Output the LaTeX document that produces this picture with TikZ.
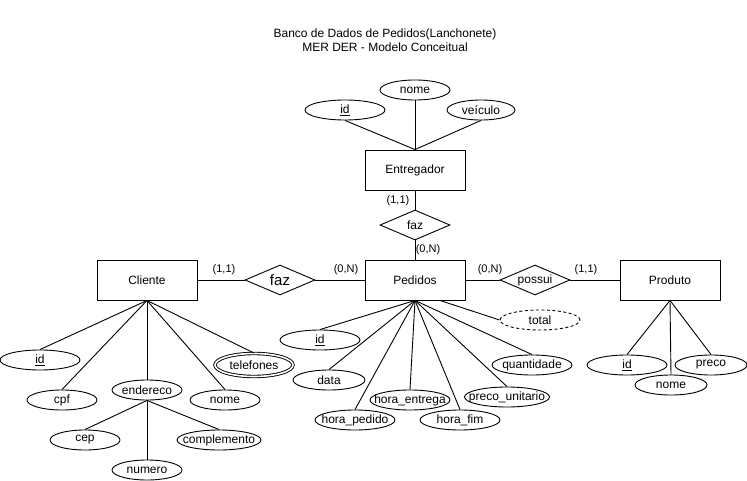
\documentclass[tikz,border=0pt]{standalone}
\usepackage{fontspec}
\setmainfont{Liberation Sans}
\usetikzlibrary{shapes.geometric}
% centred label of zero width, so the shape keeps its own size
\newcommand{\ctext}[1]{\makebox[0pt]{#1}}
\tikzset{
  base/.style={line width=0.9pt, inner sep=0pt, font=\fontsize{12}{14}\selectfont},
  entity/.style={base, draw, rectangle, minimum width=100pt, minimum height=40pt},
  rel/.style={base, draw, diamond, aspect=2.333, minimum width=70pt, minimum height=30pt},
  attr/.style={base, draw, ellipse, minimum height=20pt},
  derived/.style={attr, dash pattern=on 3pt off 2.5pt},
  multi/.style={attr, double, double distance=1.6pt, minimum height=23pt},
  card/.style={inner sep=0pt, font=\fontsize{11}{13}\selectfont},
  link/.style={line width=0.9pt},
}
\begin{document}
\begin{tikzpicture}[x=1pt,y=-1pt]
  \useasboundingbox[fill=white] (0,0) rectangle (747,481);

  % title
  \node[inner sep=0pt, font=\fontsize{12}{14}\selectfont, align=center] (title) at (385,40)
    {Banco de Dados de Pedidos(Lanchonete)\\MER DER - Modelo Conceitual};

  % entities
  \node[entity] (entregador) at (415,170) {Entregador};
  \node[entity] (pedidos) at (415,280) {Pedidos};
  \node[entity] (cliente) at (147,280) {Cliente};
  \node[entity] (produto) at (670,280) {Produto};

  % relationships
  \node[rel] (fazE) at (415,225) {\ctext{faz}};
  \node[rel] (fazC) at (280,280) {\ctext{\fontsize{15}{17}\selectfont faz}};
  \node[rel] (possui) at (535,280) {\ctext{possui}};

  % cardinalities
  \node[card] (c1) at (398,201) {(1,1)};
  \node[card] (c2) at (428,250) {(0,N)};
  \node[card] (c3) at (224,270) {(1,1)};
  \node[card] (c4) at (346,270) {(0,N)};
  \node[card] (c5) at (490,270) {(0,N)};
  \node[card] (c6) at (586,270) {(1,1)};

  % Entregador attributes
  \node[attr, minimum width=80pt] (eid) at (345,110) {\ctext{\underline{id}}};
  \node[attr, minimum width=70pt] (enome) at (415,90) {\ctext{nome}};
  \node[attr, minimum width=68pt] (eveic) at (481,110) {\ctext{veículo}};

  % Cliente attributes
  \node[attr, minimum width=80pt] (cid) at (40,360) {\ctext{\underline{id}}};
  \node[attr, minimum width=70pt] (ccpf) at (62,400) {\ctext{cpf}};
  \node[attr, minimum width=70pt] (cend) at (147,390) {\ctext{endereco}};
  \node[attr, minimum width=70pt] (cnome) at (225,400) {\ctext{nome}};
  \node[multi, minimum width=78pt] (ctel) at (254,365) {\ctext{telefones}};
  \node[attr, minimum width=70pt] (ccep) at (85,440) {\ctext{cep}};
  \node[attr, minimum width=84pt] (ccomp) at (219,440) {\ctext{complemento}};
  \node[attr, minimum width=70pt] (cnum) at (147,470) {\ctext{numero}};

  % Pedidos attributes
  \node[attr, minimum width=80pt] (pid) at (320,340) {\ctext{\underline{id}}};
  \node[attr, minimum width=72pt] (pdata) at (329,380) {\ctext{data}};
  \node[attr, minimum width=80pt] (phped) at (355,420) {\ctext{hora\_pedido}};
  \node[attr, minimum width=80pt] (phent) at (410,400) {\ctext{hora\_entrega}};
  \node[attr, minimum width=80pt] (phfim) at (460,420) {\ctext{hora\_fim}};
  \node[attr, minimum width=85pt] (ppreco) at (507,397) {\ctext{preco\_unitario}};
  \node[attr, minimum width=80pt] (pqtd) at (532,365) {\ctext{quantidade}};
  \node[derived, minimum width=80pt] (ptotal) at (540,320) {\ctext{total}};

  % Produto attributes
  \node[attr, minimum width=80pt] (prid) at (627,365) {\ctext{\underline{id}}};
  \node[attr, minimum width=72pt] (prnome) at (671,385) {\ctext{nome}};
  \node[attr, minimum width=72pt] (prpreco) at (711,365) {\ctext{preco}};

  % relationship links
  \draw[link] (entregador) -- (fazE) -- (pedidos);
  \draw[link] (cliente) -- (fazC) -- (pedidos);
  \draw[link] (pedidos) -- (possui) -- (produto);

  % attribute links
  \foreach \a in {eid, enome, eveic}
    \draw[link] (\a.south) -- (entregador.north);
  \foreach \a in {cid, ccpf, cend, cnome, ctel}
    \draw[link] (cliente.south) -- (\a.north);
  \foreach \a in {ccep, cnum, ccomp}
    \draw[link] (cend.south) -- (\a.north);
  \foreach \a in {pid, pdata, phped, phent, phfim, ppreco, pqtd}
    \draw[link] (pedidos.south) -- (\a.north);
  \draw[link] ([xshift=25pt]pedidos.south) -- (ptotal.west);
  \foreach \a in {prid, prnome, prpreco}
    \draw[link] (produto.south) -- (\a.north);
\end{tikzpicture}
\end{document}
